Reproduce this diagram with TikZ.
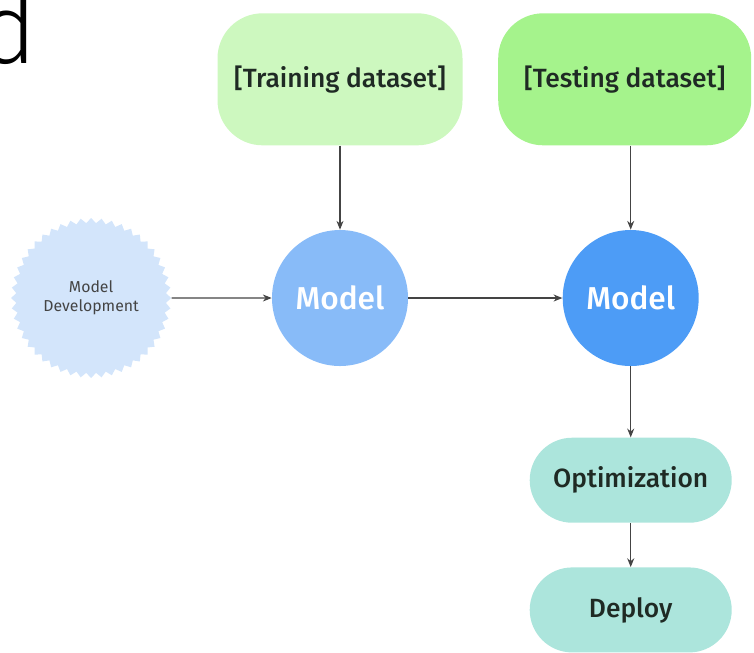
\documentclass[tikz,border=0pt]{standalone}
\usepackage{fontspec}
\setmainfont{Fira Sans}[BoldFont={Fira Sans Medium}]
\newfontfamily\headfont{Fira Sans Light}
\usepackage{tikz}
\usepackage{xcolor}
\usetikzlibrary{positioning,shapes.symbols,arrows.meta}

\definecolor{trainfill}{HTML}{CDF8BF}
\definecolor{testfill}{HTML}{A5F38C}
\definecolor{modelA}{HTML}{88BBF8}
\definecolor{modelB}{HTML}{4D9CF6}
\definecolor{devfill}{HTML}{D3E5FB}
\definecolor{stepfill}{HTML}{ACE5DC}
\definecolor{inkgray}{HTML}{444444}
\definecolor{txtdark}{HTML}{1F2A24}

\begin{document}
\begin{tikzpicture}[node distance=1.5cm,
 data/.style={rounded corners=0.9cm,minimum width=4.9cm,minimum height=2.64cm,text=txtdark,font=\bfseries\fontsize{15}{18}\selectfont},
 model/.style={circle,minimum size=2.72cm,inner sep=0pt,text=white,font=\bfseries\fontsize{18}{21}\selectfont},
 stage/.style={rounded corners=0.85cm,minimum width=4.04cm,minimum height=1.7cm,fill=stepfill,text=txtdark,font=\bfseries\fontsize{15}{18}\selectfont},
 flow/.style={-{Stealth[length=5pt,width=4pt]},draw=inkgray,line width=0.6pt}]
 \useasboundingbox (0,0) rectangle (15.08,-13.04);

 \node[anchor=base east,inner sep=0pt,text=black] (head) at (0.74,-1.26) {\headfont\fontsize{56}{60}\selectfont d};

 \node[model,fill=modelA] (m_1) at (6.8,-5.96) {Model};
 \node[model,fill=modelB] (m_2) [right=3.08cm of m_1] {Model};

 \node[starburst,starburst points=48,starburst point height=0.1cm,random starburst=0,
  minimum width=3.2cm,minimum height=3.2cm,inner sep=0pt,fill=devfill,
  text=inkgray,align=center,font=\fontsize{9}{11}\selectfont] (dev) [left=2cm of m_1] {Model\\Development};

 \node[data,fill=trainfill] (train) [above=1.68cm of m_1] {[Training dataset]};
 \node[data,fill=testfill,minimum width=5.06cm] (test) [above=1.68cm of m_2,xshift=-0.12cm] {[Testing dataset]};

 \node[stage] (opt) [below=1.42cm of m_2] {Optimization};
 \node[stage] (deploy) [below=0.88cm of opt] {Deploy};

 \draw[flow] (dev) -- (m_1);
 \draw[flow] (m_1) -- (m_2);
 \draw[flow] (train) -- (m_1);
 \draw[flow] (test.south -| m_2.north) -- (m_2);
 \draw[flow] (m_2) -- (opt);
 \draw[flow] (opt) -- (deploy);
\end{tikzpicture}
\end{document}
